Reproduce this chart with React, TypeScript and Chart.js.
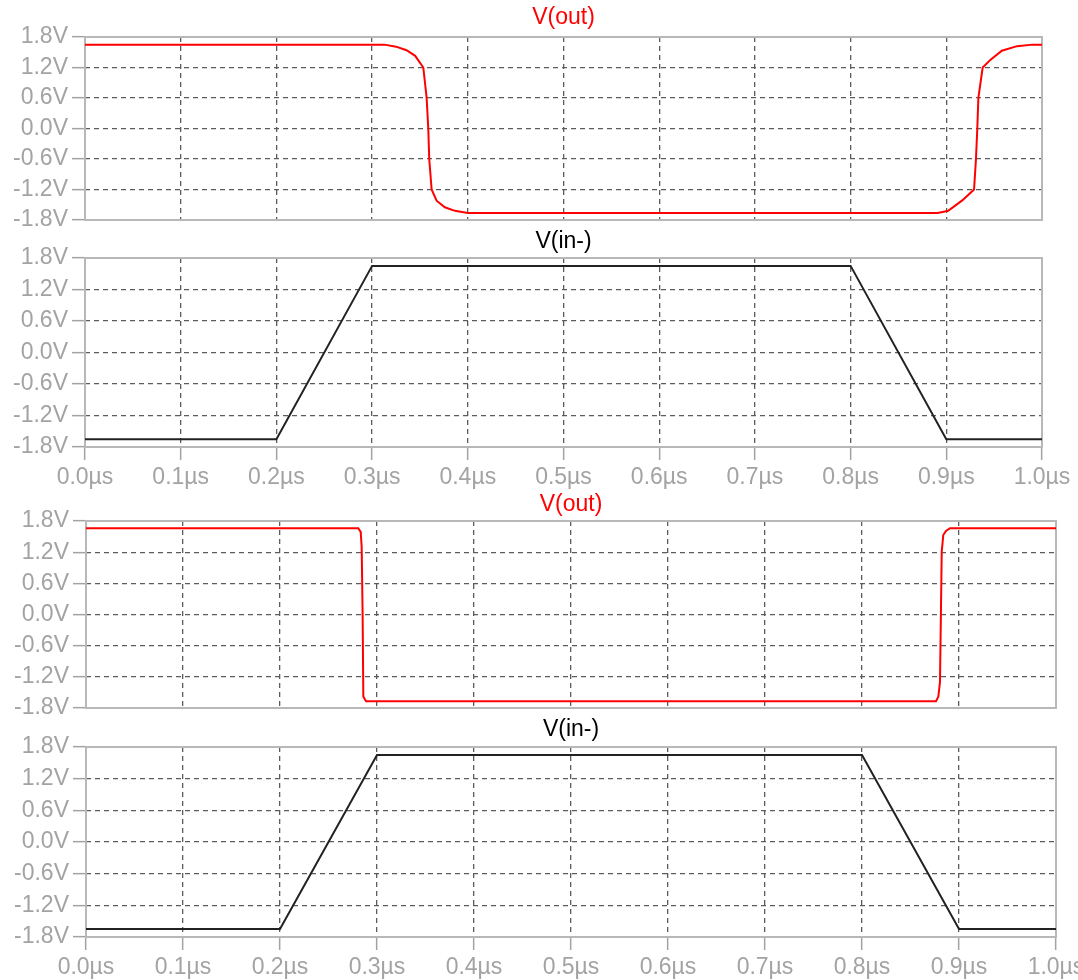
import React, { useEffect, useRef } from "react";
import { Chart, registerables } from "chart.js";

Chart.register(...registerables);

const FONT = 'Arial, "Liberation Sans", sans-serif';
const PAGE_W = 1078;

// Shared axes
const timeTicks = [0, 0.1, 0.2, 0.3, 0.4, 0.5, 0.6, 0.7, 0.8, 0.9, 1.0];
const timeTickLabels = ["0.0µs", "0.1µs", "0.2µs", "0.3µs", "0.4µs", "0.5µs", "0.6µs", "0.7µs", "0.8µs", "0.9µs", "1.0µs"];
const voltTicks = [-1.8, -1.2, -0.6, 0, 0.6, 1.2, 1.8];
const voltTickLabels = ["-1.8V", "-1.2V", "-0.6V", "0.0V", "0.6V", "1.2V", "1.8V"];

// Run 1: slow comparator output (µs, V)
const outSlowTime = [0, 0.3, 0.313, 0.325, 0.336, 0.345, 0.3535, 0.357, 0.3587, 0.3597, 0.3622, 0.3674, 0.376, 0.3866, 0.4,
  0.891, 0.902, 0.917, 0.929, 0.931, 0.9324, 0.9335, 0.938, 0.946, 0.958, 0.974, 0.99, 1.0];
const outSlowVolt = [1.65, 1.65, 1.65, 1.61, 1.54, 1.43, 1.2, 0.6, 0.0, -0.6, -1.2, -1.42, -1.55, -1.62, -1.66,
  -1.66, -1.62, -1.41, -1.2, -0.6, 0.0, 0.6, 1.2, 1.35, 1.53, 1.62, 1.65, 1.65];

// Run 1: input ramp
const inSlowTime = [0, 0.2, 0.3, 0.8, 0.9, 1.0];
const inSlowVolt = [-1.65, -1.65, 1.65, 1.65, -1.65, -1.65];

// Run 2: fast comparator output
const outFastTime = [0, 0.2807, 0.2832, 0.2842, 0.2852, 0.2859, 0.2887, 0.2928,
  0.8763, 0.8787, 0.8804, 0.8814, 0.8822, 0.8838, 0.8866, 0.8907, 1.0];
const outFastVolt = [1.66, 1.66, 1.59, 1.3, -0.04, -1.58, -1.67, -1.67,
  -1.67, -1.58, -1.3, 0.08, 1.21, 1.53, 1.61, 1.66, 1.66];

// Run 2: input ramp
const inFastTime = [0, 0.2, 0.3, 0.8, 0.9, 1.0];
const inFastVolt = [-1.65, -1.65, 1.65, 1.65, -1.65, -1.65];

const LABEL_COLOR = "#a3a3a3";
const FRAME_COLOR = "#b8b8b8";
const GRID_COLOR = "#5c5c5c";
const FONT_SIZE = 23;

const framePlugin = {
  id: "plotFrame",
  beforeDatasetsDraw(chart: any) {
    const { ctx, chartArea: a } = chart;
    ctx.save();
    ctx.strokeStyle = FRAME_COLOR;
    ctx.lineWidth = 2;
    ctx.strokeRect(a.left, a.top, a.right - a.left, a.bottom - a.top);
    ctx.restore();
  },
};

type PanelProps = {
  title: string;
  titleColor: string;
  lineColor: string;
  lineWidth: number;
  times: number[];
  volts: number[];
  canvasTop: number;
  canvasBottom: number;
  areaLeft: number;
  areaRight: number;
  areaTop: number;
  areaBottom: number;
  titleY: number;
  showTime: boolean;
};

function Panel(p: PanelProps) {
  const ref = useRef<HTMLCanvasElement | null>(null);
  const height = p.canvasBottom - p.canvasTop;

  useEffect(() => {
    if (!ref.current) return;
    const titleLine = FONT_SIZE * 1.2;
    const padTop = p.titleY - p.canvasTop - titleLine / 2;
    const padBottom = p.areaTop - p.canvasTop - titleLine - padTop;
    const xHeight = p.canvasBottom - p.areaBottom;
    const font = { family: FONT, size: FONT_SIZE, weight: "normal" as const };

    const chart = new Chart(ref.current, {
      type: "line",
      data: {
        datasets: [
          {
            data: p.times.map((t, i) => ({ x: t, y: p.volts[i] })),
            borderColor: p.lineColor,
            borderWidth: p.lineWidth,
            pointRadius: 0,
            tension: 0,
            fill: false,
          },
        ],
      },
      options: {
        responsive: false,
        animation: false,
        events: [],
        layout: { padding: { left: 0, top: 0, right: PAGE_W - p.areaRight, bottom: 0 } },
        plugins: {
          legend: { display: false },
          tooltip: { enabled: false },
          title: {
            display: true,
            text: p.title,
            color: p.titleColor,
            fullSize: false,
            font: { ...font, lineHeight: 1.2 },
            padding: { top: padTop, bottom: padBottom },
          },
        },
        scales: {
          x: {
            type: "linear",
            min: 0,
            max: 1,
            afterBuildTicks: (s: any) => {
              s.ticks = timeTicks.map((v) => ({ value: v }));
            },
            afterFit: (s: any) => {
              s.height = xHeight;
              s.paddingLeft = 0;
              s.paddingRight = 0;
            },
            ticks: {
              display: p.showTime,
              autoSkip: false,
              maxRotation: 0,
              padding: 4,
              color: LABEL_COLOR,
              font,
              callback: (_v: any, i: number) => timeTickLabels[i],
            },
            grid: {
              color: (c: any) => (c.index === 0 || c.index === timeTicks.length - 1 ? "transparent" : GRID_COLOR),
              lineWidth: 1.3,
              drawTicks: p.showTime,
              tickLength: 13,
              tickColor: LABEL_COLOR,
              tickWidth: 1.5,
            },
            border: { display: false, dash: [5, 4] },
          },
          y: {
            type: "linear",
            min: -1.8,
            max: 1.8,
            afterBuildTicks: (s: any) => {
              s.ticks = voltTicks.map((v) => ({ value: v }));
            },
            afterFit: (s: any) => {
              s.width = p.areaLeft;
              s.paddingTop = 0;
              s.paddingBottom = 0;
            },
            ticks: {
              autoSkip: false,
              padding: 4,
              color: LABEL_COLOR,
              font,
              callback: (_v: any, i: number) => voltTickLabels[i],
            },
            grid: {
              color: (c: any) => (c.index === 0 || c.index === voltTicks.length - 1 ? "transparent" : GRID_COLOR),
              lineWidth: 1.3,
              drawTicks: true,
              tickLength: 13,
              tickColor: LABEL_COLOR,
              tickWidth: 1.5,
            },
            border: { display: false, dash: [5, 4] },
          },
        },
      },
      plugins: [framePlugin],
    } as any);
    return () => chart.destroy();
  }, []);

  return (
    <canvas
      ref={ref}
      width={PAGE_W}
      height={height}
      style={{ position: "absolute", left: 0, top: p.canvasTop, display: "block" }}
    />
  );
}

export default function App() {
  return (
    <div
      style={{
        position: "absolute",
        left: 0,
        top: 0,
        width: PAGE_W,
        height: 980,
        overflow: "hidden",
        background: "#ffffff",
      }}
    >
      <Panel title="V(out)" titleColor="#ff0000" lineColor="#ff0000" lineWidth={2}
        times={outSlowTime} volts={outSlowVolt}
        canvasTop={0} canvasBottom={226} areaLeft={85} areaRight={1042} areaTop={37} areaBottom={220}
        titleY={18} showTime={false} />
      <Panel title="V(in-)" titleColor="#000000" lineColor="#222222" lineWidth={2}
        times={inSlowTime} volts={inSlowVolt}
        canvasTop={226} canvasBottom={490} areaLeft={85} areaRight={1042} areaTop={258} areaBottom={447}
        titleY={242} showTime={true} />
      <Panel title="V(out)" titleColor="#ff0000" lineColor="#ff0000" lineWidth={2}
        times={outFastTime} volts={outFastVolt}
        canvasTop={490} canvasBottom={714} areaLeft={86} areaRight={1056} areaTop={521} areaBottom={708}
        titleY={505} showTime={false} />
      <Panel title="V(in-)" titleColor="#000000" lineColor="#222222" lineWidth={2}
        times={inFastTime} volts={inFastVolt}
        canvasTop={714} canvasBottom={980} areaLeft={86} areaRight={1056} areaTop={747} areaBottom={937}
        titleY={730} showTime={true} />
    </div>
  );
}
